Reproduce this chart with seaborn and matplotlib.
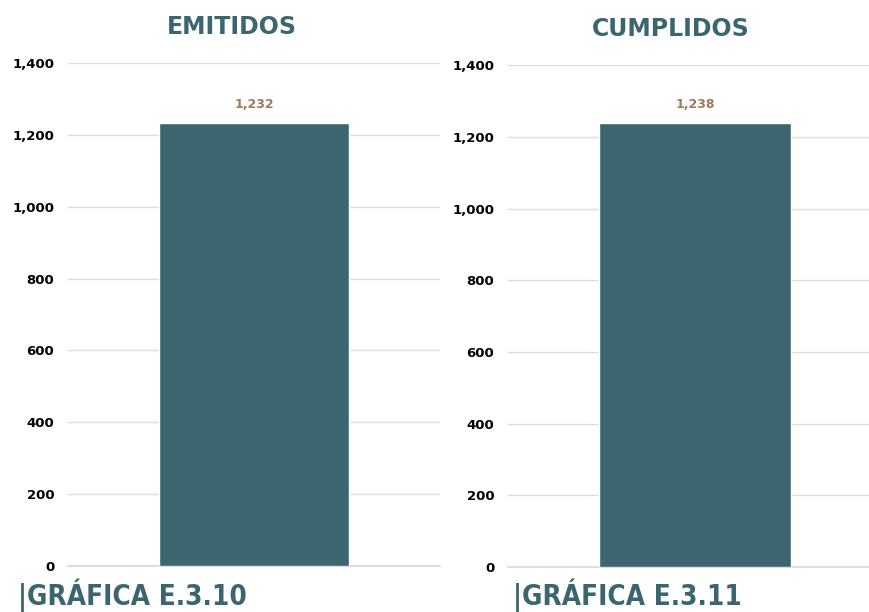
import matplotlib.pyplot as plt
import seaborn as sns
import pandas as pd

# Data
titles = ['EMITIDOS', 'CUMPLIDOS']
values = [1232, 1238]
captions = ['|GRÁFICA E.3.10', '|GRÁFICA E.3.11']
yticks = [0, 200, 400, 600, 800, 1000, 1200, 1400]

bar_color = '#3B6670'
label_color = '#9A7B5A'

sns.set_theme(style='white')
plt.rcParams['font.family'] = ['DejaVu Sans']

fig = plt.figure(figsize=(8.69, 6.12), dpi=100)
positions = [[0.0783, 0.0752, 0.428, 0.822], [0.5846, 0.0735, 0.430, 0.820]]
title_x = [232 / 869, 671 / 869]
title_y = [1 - 27 / 612, 1 - 29 / 612]
caption_x = [18 / 869, 513 / 869]

for i in range(2):
    ax = fig.add_axes(positions[i])
    df = pd.DataFrame({'cat': [titles[i]], 'val': [values[i]]})
    sns.barplot(data=df, x='cat', y='val', color=bar_color, width=0.512,
                saturation=1, ax=ax, zorder=3)
    ax.set_xlim(-0.5, 0.5)
    ax.set_ylim(0, 1400)
    ax.set_yticks(yticks)
    ax.set_yticklabels([f'{v:,}' for v in yticks], fontsize=9.5, fontweight='heavy', color='black')
    ax.tick_params(axis='y', length=0, pad=10)
    ax.set_xticks([])
    ax.set_xlabel('')
    ax.set_ylabel('')
    ax.grid(axis='y', color='#dcdcdc', linewidth=1.0, zorder=0)
    # baseline at 0 (the grid line there gets clipped by the axes edge)
    ax.axhline(0, color='#dcdcdc', linewidth=1.5, zorder=1, clip_on=False)
    sns.despine(ax=ax, left=True, bottom=True)
    ax.set_axisbelow(True)
    ax.text(0, values[i] + 35, f'{values[i]:,}', ha='center', va='bottom',
            fontsize=9, fontweight='bold', color=label_color)
    fig.text(title_x[i], title_y[i], titles[i], ha='center', va='center',
             fontsize=17, fontweight='heavy', color=bar_color)
    fig.text(caption_x[i], 1 - 595 / 612, captions[i], ha='left', va='center',
             fontsize=20, fontweight='bold', fontstretch='condensed', color=bar_color,
             family=['DejaVu Sans'])

fig.savefig('out.png', dpi=100)
